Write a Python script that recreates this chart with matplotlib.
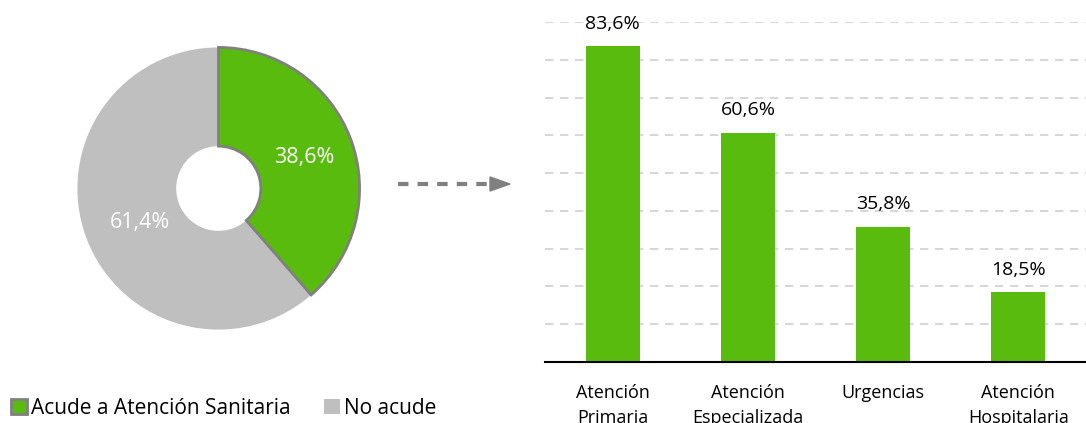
import matplotlib.pyplot as plt
from matplotlib.patches import Patch

plt.rcParams['font.family'] = ['Open Sans', 'DejaVu Sans']

# overall share
pie_labels = ["Acude a Atención Sanitaria", "No acude"]
pie_values = [38.6, 61.4]

# breakdown by service
categories = ["Atención\nPrimaria", "Atención\nEspecializada", "Urgencias", "Atención\nHospitalaria"]
values = [83.6, 60.6, 35.8, 18.5]

green = "#59BB0D"
grey = "#BFBFBF"
edge = "#808080"

fig = plt.figure(figsize=(10.86, 4.23), dpi=100)

# donut
ax1 = fig.add_axes([76 / 1086, 1 - 331 / 423, 285 / 1086, 285 / 423])
wedges, _ = ax1.pie(pie_values, colors=[green, grey], startangle=90, counterclock=False,
                    wedgeprops=dict(width=0.7))
wedges[0].set_edgecolor(edge)
wedges[0].set_linewidth(2)
wedges[0].set_zorder(3)
wedges[1].set_edgecolor("none")
ax1.set_xlim(-1.01, 1.01)
ax1.set_ylim(-1.01, 1.01)
fmt = lambda v: f"{v:.1f}%".replace(".", ",")
ax1.text(0.61, 0.22, fmt(pie_values[0]), color="white", fontsize=15.5, ha="center", va="center")
ax1.text(-0.56, -0.24, fmt(pie_values[1]), color="white", fontsize=15.5, ha="center", va="center")
ax1.set_aspect("equal")

# dashed arrow between the two panels
fig.add_artist(plt.Line2D([398 / 1086, 492 / 1086], [1 - 184 / 423] * 2, color=edge,
                          lw=3, ls=(0, (2.5, 2.2)), transform=fig.transFigure))
fig.add_artist(plt.Polygon([[490 / 1086, 1 - 177 / 423], [490 / 1086, 1 - 191 / 423],
                            [510 / 1086, 1 - 184 / 423]], closed=True, color=edge,
                           transform=fig.transFigure))

# bars
ax2 = fig.add_axes([545 / 1086, 1 - 362 / 423, 541 / 1086, 340 / 423])
x = range(len(categories))
ax2.bar(x, values, width=0.4, color=green, zorder=3)
for xi, v in zip(x, values):
    ax2.text(xi, v + 3.6, fmt(v), ha="center", va="bottom", fontsize=14)
ax2.set_xlim(-0.5, 3.5)
ax2.set_ylim(0, 90)
ax2.set_yticks(range(10, 91, 10))
ax2.yaxis.grid(True, color="#D0D0D0", ls=(0, (5, 4)), lw=1.2)
ax2.tick_params(axis="y", left=False, labelleft=False)
ax2.tick_params(axis="x", bottom=False, labelsize=13, pad=12)
ax2.set_xticks(list(x))
ax2.set_xticklabels(categories, linespacing=1.5)
for s in ["top", "right", "left"]:
    ax2.spines[s].set_visible(False)
ax2.spines["bottom"].set_linewidth(1.5)
ax2.spines["bottom"].set_zorder(4)

# legend
handles = [Patch(facecolor=green, edgecolor=edge, linewidth=2), Patch(facecolor=grey, edgecolor="none")]
fig.legend(handles, pie_labels, loc="lower left", bbox_to_anchor=(-0.007, -0.035), ncol=2,
           frameon=False, fontsize=15, handlelength=0.75, handleheight=0.75,
           handletextpad=0.2, columnspacing=1.6)

fig.savefig("out.png", dpi=100)
